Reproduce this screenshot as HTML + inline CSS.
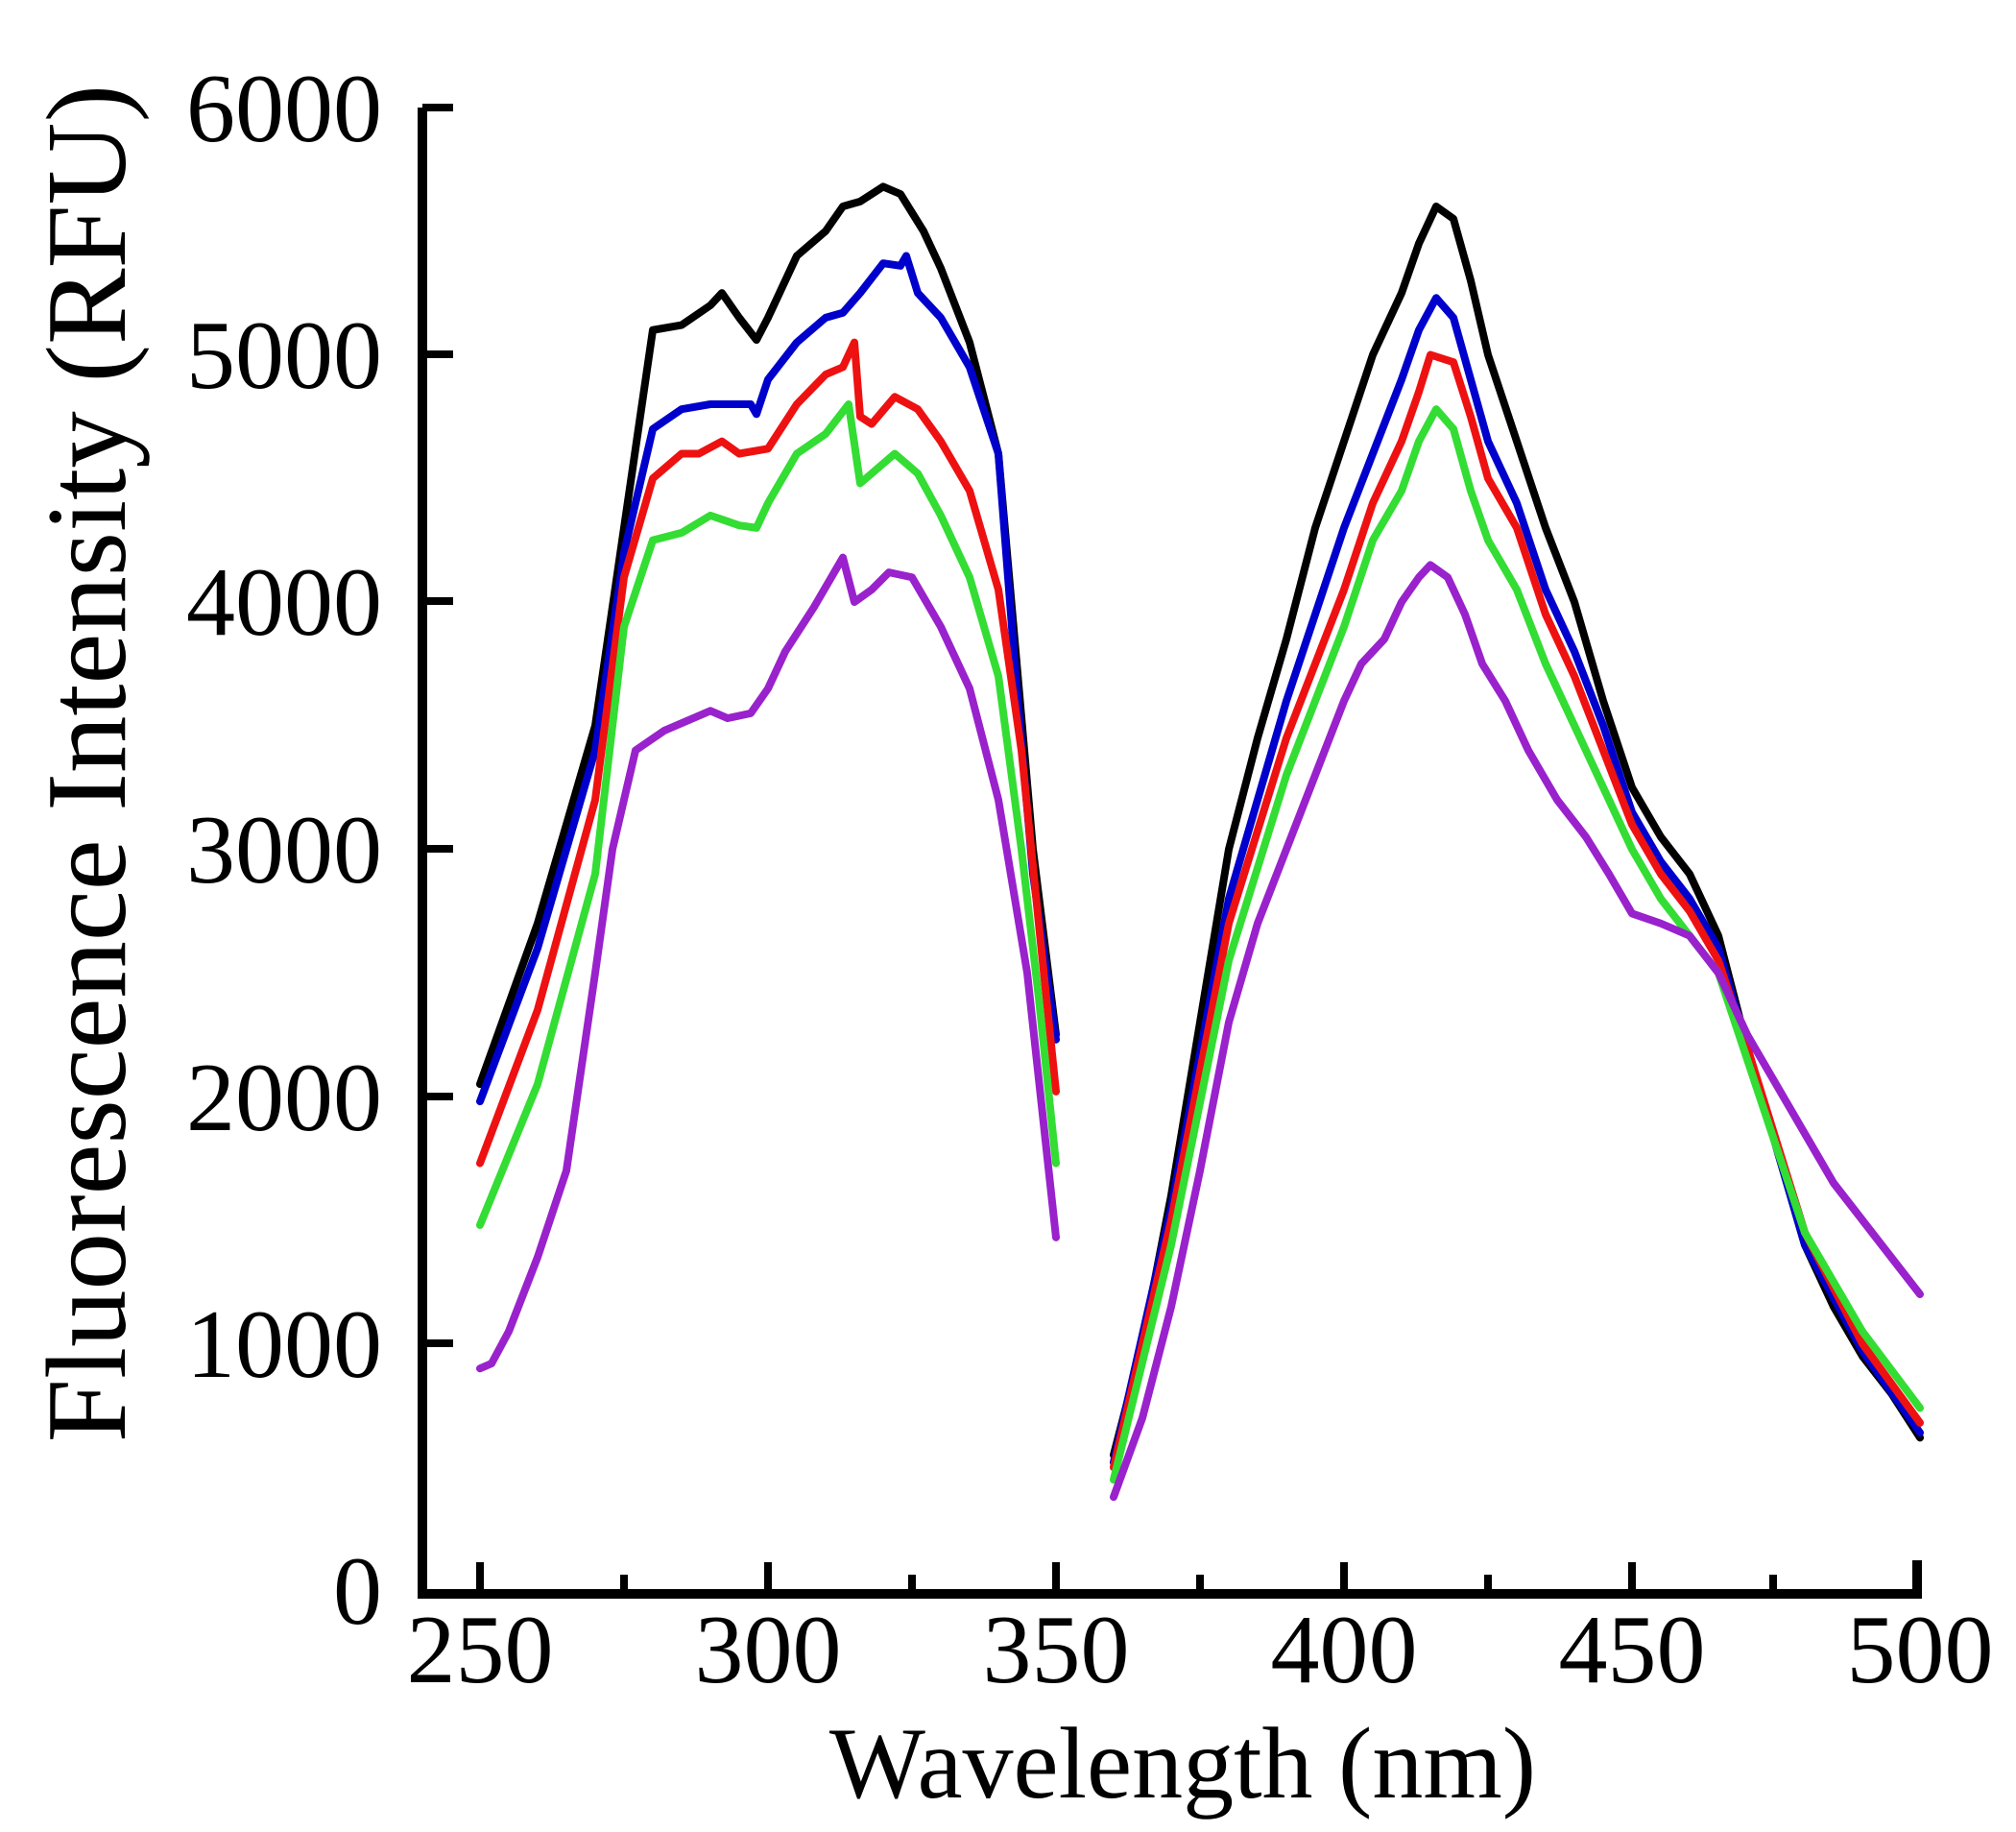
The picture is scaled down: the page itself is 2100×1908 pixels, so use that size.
<!DOCTYPE html>
<html><head><meta charset="utf-8"><style>
html,body{margin:0;padding:0;background:#fff;}
svg{display:block}
text{font-family:"Liberation Serif",serif;fill:#000}
</style></head><body>
<svg width="2100" height="1908" viewBox="0 0 2100 1908" xmlns="http://www.w3.org/2000/svg">
<g stroke="#000" stroke-width="10" fill="none">
<path d="M440 112 V1660 H1997 V1625"/>
</g>
<g stroke="#000" stroke-width="8">
<line x1="440" y1="112" x2="472" y2="112"/>
<line x1="440" y1="369" x2="472" y2="369"/>
<line x1="440" y1="626" x2="472" y2="626"/>
<line x1="440" y1="884" x2="472" y2="884"/>
<line x1="440" y1="1142" x2="472" y2="1142"/>
<line x1="440" y1="1399" x2="472" y2="1399"/>
<line x1="500" y1="1660" x2="500" y2="1627"/>
<line x1="650" y1="1660" x2="650" y2="1640"/>
<line x1="800" y1="1660" x2="800" y2="1627"/>
<line x1="950" y1="1660" x2="950" y2="1640"/>
<line x1="1100" y1="1660" x2="1100" y2="1627"/>
<line x1="1250" y1="1660" x2="1250" y2="1640"/>
<line x1="1400" y1="1660" x2="1400" y2="1627"/>
<line x1="1550" y1="1660" x2="1550" y2="1640"/>
<line x1="1700" y1="1660" x2="1700" y2="1627"/>
<line x1="1847" y1="1660" x2="1847" y2="1640"/>
</g>
<g font-size="102" text-anchor="end">
<text x="398" y="147">6000</text>
<text x="398" y="404">5000</text>
<text x="398" y="661">4000</text>
<text x="398" y="919">3000</text>
<text x="398" y="1177">2000</text>
<text x="398" y="1434">1000</text>
<text x="398" y="1691">0</text>
</g>
<g font-size="102" text-anchor="middle">
<text x="500" y="1752">250</text>
<text x="800" y="1752">300</text>
<text x="1100" y="1752">350</text>
<text x="1400" y="1752">400</text>
<text x="1700" y="1752">450</text>
<text x="2000" y="1752">500</text>
</g>
<text x="1232" y="1872" font-size="106" text-anchor="middle">Wavelength (nm)</text>
<text transform="translate(130,795) rotate(-90)" font-size="119" text-anchor="middle">Fluorescence Intensity (RFU)</text>
<g transform="translate(500,1657) scale(6,-0.2575)" fill="none" stroke-width="8" stroke-linejoin="round" stroke-linecap="round">
<g stroke="#000">
<polyline vector-effect="non-scaling-stroke" points="0,2050 10,2700 20,3500 25,4300 30,5100 35,5120 40,5200 42,5250 45,5150 48,5060 50,5150 55,5400 60,5500 63,5600 66,5620 70,5680 73,5650 77,5500 80,5350 85,5050 90,4600 93,3800 96,3000 100,2250"/>
<polyline vector-effect="non-scaling-stroke" points="110,550 115,1000 120,1600 125,2300 130,3000 135,3450 140,3850 145,4300 150,4650 155,5000 160,5250 163,5450 166,5600 169,5550 172,5300 175,5000 180,4650 185,4300 190,4000 195,3600 200,3250 205,3050 210,2900 215,2650 220,2200 225,1800 230,1400 235,1150 240,950 245,800 250,620"/>
</g>
<g stroke="#0000cc">
<polyline vector-effect="non-scaling-stroke" points="0,1980 10,2600 20,3400 25,4200 30,4700 35,4780 40,4800 47,4800 48,4760 50,4900 55,5050 60,5150 63,5170 66,5250 70,5370 73,5360 74,5400 76,5250 80,5150 85,4950 90,4600 93,3700 96,2900 100,2230"/>
<polyline vector-effect="non-scaling-stroke" points="110,520 120,1550 130,2800 140,3600 150,4300 155,4600 160,4900 163,5100 166,5230 169,5150 172,4900 175,4650 180,4400 185,4050 190,3800 195,3500 200,3150 205,2950 210,2800 215,2600 220,2200 230,1400 240,970 250,640"/>
</g>
<g stroke="#ee1111">
<polyline vector-effect="non-scaling-stroke" points="0,1730 10,2350 20,3200 25,4100 30,4500 35,4600 38,4600 42,4650 45,4600 50,4620 55,4800 60,4920 63,4950 65,5050 66,4750 68,4720 72,4830 76,4780 80,4650 85,4450 90,4050 94,3400 97,2700 100,2020"/>
<polyline vector-effect="non-scaling-stroke" points="110,500 120,1500 130,2700 140,3450 150,4050 155,4400 160,4650 163,4850 165,5000 169,4970 172,4750 175,4500 180,4300 185,3950 190,3700 195,3400 200,3100 205,2900 210,2750 215,2550 220,2200 230,1450 240,1000 250,680"/>
</g>
<g stroke="#33dd33">
<polyline vector-effect="non-scaling-stroke" points="0,1480 10,2050 20,2900 25,3900 30,4250 35,4280 40,4350 45,4310 48,4300 50,4400 55,4600 60,4680 64,4800 66,4480 68,4520 72,4600 76,4520 80,4350 85,4100 90,3700 94,3000 97,2400 100,1730"/>
<polyline vector-effect="non-scaling-stroke" points="110,450 120,1400 130,2550 140,3300 150,3900 155,4250 160,4450 163,4650 166,4780 169,4700 172,4450 175,4250 180,4050 185,3750 190,3500 195,3250 200,3000 205,2800 210,2650 215,2500 220,2150 230,1450 240,1050 250,740"/>
</g>
<g stroke="#9922cc">
<polyline vector-effect="non-scaling-stroke" points="0,900 2,920 5,1050 10,1350 15,1700 20,2500 23,3000 27,3400 32,3480 40,3560 43,3530 47,3550 50,3650 53,3800 58,3980 63,4180 65,4000 68,4050 71,4120 75,4100 80,3900 85,3650 90,3200 95,2500 100,1430"/>
<polyline vector-effect="non-scaling-stroke" points="110,380 115,700 120,1150 125,1700 130,2300 135,2700 140,3000 145,3300 150,3600 153,3750 157,3850 160,4000 163,4100 165,4150 168,4100 171,3950 174,3750 178,3600 182,3400 187,3200 192,3050 196,2900 200,2740 205,2700 210,2650 215,2500 220,2250 225,2050 230,1850 235,1650 240,1500 245,1350 250,1200"/>
</g>
</g>
</svg>
</body></html>
